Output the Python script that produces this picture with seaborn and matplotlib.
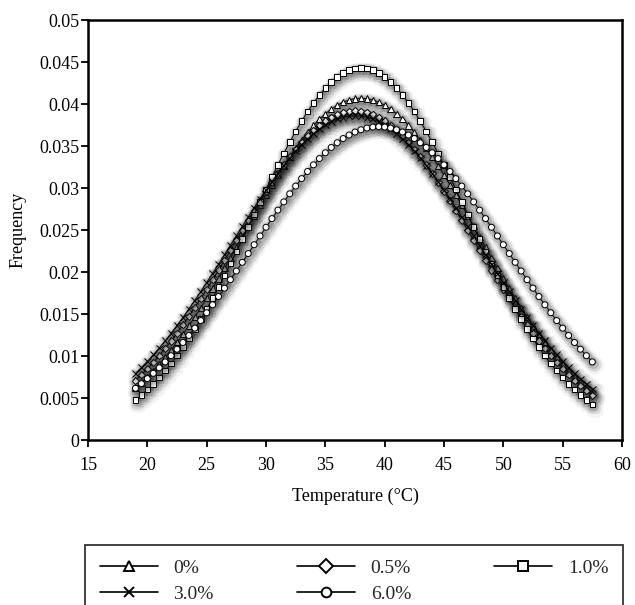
import numpy as np
import pandas as pd
import matplotlib
matplotlib.use("Agg")
import matplotlib.pyplot as plt
import matplotlib.patheffects as pe
from matplotlib.lines import Line2D
from matplotlib.ticker import FuncFormatter
import seaborn as sns

# temperature grid of the curves (deg C)
temperature = np.arange(19.0, 57.75, 0.5)

# frequency, one list per additive content
freq_0 = [0.00621, 0.00685, 0.00753, 0.00826, 0.00904, 0.00986, 0.01073, 0.01165, 0.01261, 0.01362,
          0.01467, 0.01576, 0.01688, 0.01804, 0.01923, 0.02044, 0.02168, 0.02293, 0.02418, 0.02544,
          0.02670, 0.02794, 0.02917, 0.03037, 0.03154, 0.03266, 0.03374, 0.03477, 0.03573, 0.03663,
          0.03745, 0.03819, 0.03884, 0.03940, 0.03986, 0.04023, 0.04049, 0.04065,
          0.04070,
          0.04065, 0.04049, 0.04023, 0.03986, 0.03940, 0.03884, 0.03819, 0.03745, 0.03663, 0.03573,
          0.03477, 0.03374, 0.03266, 0.03154, 0.03037, 0.02917, 0.02794, 0.02670, 0.02544, 0.02418,
          0.02293, 0.02168, 0.02044, 0.01923, 0.01804, 0.01688, 0.01576, 0.01467, 0.01362, 0.01261,
          0.01165, 0.01073, 0.00986, 0.00904, 0.00826, 0.00753, 0.00685, 0.00621, 0.00562]

freq_05 = [0.00708, 0.00776, 0.00848, 0.00924, 0.01005, 0.01090, 0.01179, 0.01273, 0.01370, 0.01471,
           0.01576, 0.01684, 0.01795, 0.01908, 0.02024, 0.02141, 0.02259, 0.02378, 0.02496, 0.02615,
           0.02731, 0.02847, 0.02959, 0.03068, 0.03174, 0.03274, 0.03370, 0.03459, 0.03543, 0.03619,
           0.03687, 0.03748, 0.03799, 0.03842, 0.03876, 0.03900, 0.03915,
           0.03920,
           0.03915, 0.03900, 0.03876, 0.03842, 0.03799, 0.03748, 0.03687, 0.03619, 0.03543, 0.03459,
           0.03370, 0.03274, 0.03174, 0.03068, 0.02959, 0.02847, 0.02731, 0.02615, 0.02496, 0.02378,
           0.02259, 0.02141, 0.02024, 0.01908, 0.01795, 0.01684, 0.01576, 0.01471, 0.01370, 0.01273,
           0.01179, 0.01090, 0.01005, 0.00924, 0.00848, 0.00776, 0.00708, 0.00645, 0.00586, 0.00531]

freq_10 = [0.00477, 0.00536, 0.00600, 0.00669, 0.00744, 0.00825, 0.00912, 0.01005, 0.01105, 0.01210,
           0.01321, 0.01438, 0.01561, 0.01689, 0.01821, 0.01958, 0.02099, 0.02243, 0.02390, 0.02538,
           0.02687, 0.02836, 0.02984, 0.03130, 0.03274, 0.03413, 0.03547, 0.03675, 0.03797, 0.03909,
           0.04013, 0.04107, 0.04191, 0.04262, 0.04322, 0.04369, 0.04403, 0.04423,
           0.04430,
           0.04423, 0.04403, 0.04369, 0.04322, 0.04262, 0.04191, 0.04107, 0.04013, 0.03909, 0.03797,
           0.03675, 0.03547, 0.03413, 0.03274, 0.03130, 0.02984, 0.02836, 0.02687, 0.02538, 0.02390,
           0.02243, 0.02099, 0.01958, 0.01821, 0.01689, 0.01561, 0.01438, 0.01321, 0.01210, 0.01105,
           0.01005, 0.00912, 0.00825, 0.00744, 0.00669, 0.00600, 0.00536, 0.00477, 0.00424]

freq_30 = [0.00793, 0.00863, 0.00937, 0.01015, 0.01096, 0.01182, 0.01271, 0.01364, 0.01460, 0.01560,
           0.01662, 0.01767, 0.01875, 0.01984, 0.02094, 0.02206, 0.02319, 0.02431, 0.02543, 0.02654,
           0.02764, 0.02871, 0.02976, 0.03078, 0.03175, 0.03268, 0.03356, 0.03439, 0.03515, 0.03585,
           0.03647, 0.03703, 0.03750, 0.03789, 0.03820, 0.03842, 0.03856,
           0.03860,
           0.03856, 0.03842, 0.03820, 0.03789, 0.03750, 0.03703, 0.03647, 0.03585, 0.03515, 0.03439,
           0.03356, 0.03268, 0.03175, 0.03078, 0.02976, 0.02871, 0.02764, 0.02654, 0.02543, 0.02431,
           0.02319, 0.02206, 0.02094, 0.01984, 0.01875, 0.01767, 0.01662, 0.01560, 0.01460, 0.01364,
           0.01271, 0.01182, 0.01096, 0.01015, 0.00937, 0.00863, 0.00793, 0.00727, 0.00666, 0.00607]

freq_60 = [0.00616, 0.00671, 0.00731, 0.00794, 0.00860, 0.00930, 0.01004, 0.01081, 0.01161, 0.01245,
           0.01332, 0.01422, 0.01515, 0.01610, 0.01708, 0.01808, 0.01909, 0.02012, 0.02116, 0.02220,
           0.02325, 0.02430, 0.02533, 0.02636, 0.02737, 0.02835, 0.02931, 0.03023, 0.03112, 0.03197,
           0.03276, 0.03351, 0.03420, 0.03483, 0.03539, 0.03589, 0.03631, 0.03667, 0.03694, 0.03714,
           0.03726,
           0.03730,
           0.03726, 0.03714, 0.03694, 0.03667, 0.03631, 0.03589, 0.03539, 0.03483, 0.03420, 0.03351,
           0.03276, 0.03197, 0.03112, 0.03023, 0.02931, 0.02835, 0.02737, 0.02636, 0.02533, 0.02430,
           0.02325, 0.02220, 0.02116, 0.02012, 0.01909, 0.01808, 0.01708, 0.01610, 0.01515, 0.01422,
           0.01332, 0.01245, 0.01161, 0.01081, 0.01004, 0.00930]

labels = ["0%", "0.5%", "1.0%", "3.0%", "6.0%"]
series = [freq_0, freq_05, freq_10, freq_30, freq_60]
markers = {"0%": "^", "0.5%": "D", "1.0%": "s", "3.0%": "x", "6.0%": "o"}
msize = {"0%": 4.5, "0.5%": 3.6, "1.0%": 4.0, "3.0%": 4.8, "6.0%": 4.3}

df = pd.concat([pd.DataFrame({"Temperature": temperature, "Frequency": v, "Content": lab})
                for lab, v in zip(labels, series)], ignore_index=True)

sns.set_theme(style="ticks")
plt.rcParams["font.family"] = ["Liberation Serif", "DejaVu Serif"]

fig = plt.figure(figsize=(6.35, 6.05), dpi=100)
ax = fig.add_axes([0.1386, 0.2727, 0.8409, 0.6942])

# soft drop shadow under the curves
shadow = [pe.SimpleLineShadow(offset=(1.5, -2.5), shadow_color="0.1", alpha=0.05, linewidth=9,
                              joinstyle="round", capstyle="round"),
          pe.SimpleLineShadow(offset=(1.5, -2), shadow_color="0.1", alpha=0.08, linewidth=6,
                              joinstyle="round", capstyle="round"),
          pe.SimpleLineShadow(offset=(1, -1.5), shadow_color="0.1", alpha=0.12, linewidth=3,
                              joinstyle="round", capstyle="round"),
          pe.Normal()]

for lab in labels:
    sub = df[df["Content"] == lab]
    sns.lineplot(data=sub, x="Temperature", y="Frequency", color="black",
                 marker=markers[lab], markersize=msize[lab], sort=False, estimator=None,
                 linewidth=0.7, markerfacecolor="white", markeredgecolor="black",
                 markeredgewidth=0.7, ax=ax)
    ax.lines[-1].set_path_effects(shadow)

ax.set_xlim(15, 60)
ax.set_ylim(0, 0.05)
ax.set_xticks(np.arange(15, 61, 5))
ax.set_yticks(np.arange(0, 0.0501, 0.005))
ax.yaxis.set_major_formatter(FuncFormatter(lambda v, p: "%g" % round(v, 4)))
ax.tick_params(direction="out", length=5, width=1.3, colors="black", labelsize=13,
               left=True, bottom=True, top=False, right=False)
ax.tick_params(axis="x", pad=7)
ax.tick_params(axis="y", pad=1)
for s in ax.spines.values():
    s.set_visible(True)
    s.set_color("black")
    s.set_linewidth(1.8)
ax.set_xlabel("Temperature (°C)", fontsize=13, color="black", labelpad=10)
ax.set_ylabel("Frequency", fontsize=13, color="black", labelpad=9)

handles = {lab: Line2D([], [], color="black", lw=1.2, marker=markers[lab], markersize=7,
                       markerfacecolor="white", markeredgecolor="black", markeredgewidth=1.4)
           for lab in labels}
order = ["0%", "3.0%", "0.5%", "6.0%", "1.0%"]
leg = fig.legend([handles[k] for k in order], order, loc="upper left", ncol=3,
                 bbox_to_anchor=(0.134, 0.0, 0.847, 0.1), mode="expand", fontsize=14,
                 frameon=True, fancybox=False, handlelength=3.0, borderaxespad=0,
                 labelspacing=0.45, columnspacing=2.0, borderpad=0.75)
leg.get_frame().set_edgecolor("black")
leg.get_frame().set_linewidth(1.3)

fig.savefig("out.png", dpi=100)
